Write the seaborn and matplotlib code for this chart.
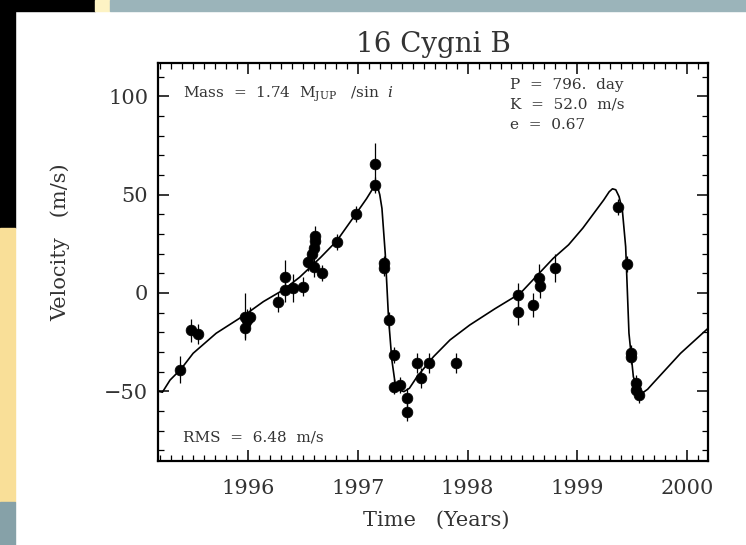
import numpy as np
import pandas as pd
import matplotlib
matplotlib.use('Agg')
import matplotlib.pyplot as plt
from matplotlib.patches import Rectangle
from matplotlib.ticker import MultipleLocator
import seaborn as sns

# radial velocity measurements (year, m/s, error)
obs_time = [1995.38, 1995.48, 1995.54, 1995.97, 1995.99, 1996.02, 1995.97, 1996.27,
            1996.34, 1996.34, 1996.41, 1996.50, 1996.55, 1996.58, 1996.60, 1996.61,
            1996.61, 1996.60, 1996.67, 1996.81, 1996.98, 1997.16, 1997.16, 1997.24,
            1997.24, 1997.28, 1997.33, 1997.33, 1997.38, 1997.45, 1997.45, 1997.54,
            1997.58, 1997.65, 1997.89, 1998.46, 1998.46, 1998.60, 1998.65, 1998.66,
            1998.80, 1999.37, 1999.45, 1999.49, 1999.49, 1999.53, 1999.53, 1999.56]
obs_vel = [-39, -19, -21, -12, -14, -12, -18, -4.5,
           8, 1.5, 2.4, 3.2, 16, 20, 23, 26.5,
           29, 13, 10, 26, 40, 55, 65.5, 15,
           12.6, -13.7, -31.5, -47.6, -47, -53.6, -60.4, -35.8,
           -43.4, -35.8, -35.8, -1, -9.5, -6.1, 7.5, 3.6,
           12.6, 43.9, 14.7, -30.7, -32.4, -45.9, -49.3, -51.9]
obs_err = [7, 6, 5, 12, 6, 5, 5, 5,
           9, 6, 7, 5, 5, 5, 5, 5,
           5, 5, 4, 4, 4, 4, 11, 4,
           4, 4, 4, 4, 4, 5, 5, 5,
           5, 5, 5, 6, 7, 6, 7, 6,
           7, 4, 4, 4, 4, 4, 4, 4]

# orbit fit curve
fit_time = [1995.18, 1995.22, 1995.29, 1995.39, 1995.50, 1995.71, 1995.97, 1996.14,
            1996.32, 1996.47, 1996.66, 1996.81, 1996.98, 1997.08, 1997.13, 1997.16,
            1997.18, 1997.20, 1997.22, 1997.25, 1997.28, 1997.31, 1997.34, 1997.38,
            1997.42, 1997.47, 1997.54, 1997.69, 1997.84, 1998.02, 1998.25, 1998.48,
            1998.78, 1998.92, 1999.05, 1999.24, 1999.29, 1999.32, 1999.35, 1999.38,
            1999.41, 1999.44, 1999.47, 1999.51, 1999.55, 1999.59, 1999.64, 1999.69,
            1999.94, 2000.19]
fit_vel = [-50, -50.5, -44.3, -38.7, -30.7, -20.5, -11.2, -4.4,
           1.5, 8, 18, 26.6, 40, 48, 52.5, 54.5,
           54, 50, 43, 20, -12.9, -34, -46, -49.5,
           -50.2, -48.5, -42.6, -32.4, -23.9, -16.3, -8, -0.2,
           17.6, 24.5, 33, 47.3, 51.5, 53, 52.5, 49,
           42, 23.5, -20.5, -42.6, -49.5, -51, -49, -45.9,
           -30.7, -18]

year_ticks = [1996, 1997, 1998, 1999, 2000]
vel_ticks = [-50, 0, 50, 100]

obs = pd.DataFrame({'t': obs_time, 'v': obs_vel, 'err': obs_err})
fit = pd.DataFrame({'t': fit_time, 'v': fit_vel})

sns.set_style('ticks')
plt.rcParams['font.family'] = ['DejaVu Serif']
plt.rcParams['mathtext.fontset'] = 'dejavuserif'

fig = plt.figure(figsize=(7.46, 5.45), dpi=100)
fig.patch.set_facecolor('white')

# slide decoration
fig.patches.append(Rectangle((0, 1 - 228/545), 15/746, 228/545, transform=fig.transFigure,
                             color='black', zorder=0))
fig.patches.append(Rectangle((0, 1 - 11/545), 95/746, 11/545, transform=fig.transFigure,
                             color='black', zorder=0))
fig.patches.append(Rectangle((95/746, 1 - 11/545), 15/746, 11/545, transform=fig.transFigure,
                             color='#fdf3c4', zorder=0))
fig.patches.append(Rectangle((110/746, 1 - 11/545), 636/746, 11/545, transform=fig.transFigure,
                             color='#9bb4ba', zorder=0))
fig.patches.append(Rectangle((0, 43/545), 15/746, 274/545, transform=fig.transFigure,
                             color='#f9df98', zorder=0))
fig.patches.append(Rectangle((0, 0), 15/746, 43/545, transform=fig.transFigure,
                             color='#86a1a8', zorder=0))

ax = fig.add_axes([158/746, 1 - 461/545, 550/746, 398/545])

ax.errorbar(obs['t'], obs['v'], yerr=obs['err'], fmt='none', ecolor='black',
            elinewidth=0.9, capsize=0, zorder=2)
sns.lineplot(data=fit, x='t', y='v', sort=False, color='black', linewidth=1.2,
             ax=ax, zorder=3)
sns.scatterplot(data=obs, x='t', y='v', color='black', s=60, edgecolor='black',
                linewidth=0.5, ax=ax, zorder=4)

ax.set_xlim(1995.18, 2000.19)
ax.set_ylim(-85.5, 117)
ax.set_xticks(year_ticks)
ax.set_yticks(vel_ticks)
ax.set_yticklabels(['\u221250', '0', '50', '100'])
ax.xaxis.set_minor_locator(MultipleLocator(0.1))
ax.yaxis.set_minor_locator(MultipleLocator(10))
ax.tick_params(which='both', direction='in', top=True, right=True, color='black')
ax.tick_params(which='major', length=8, width=1.1, labelsize=15, labelcolor='#333333')
ax.tick_params(which='minor', length=4, width=0.9)
ax.tick_params(axis='x', which='major', pad=13)
ax.tick_params(axis='y', which='major', pad=7)
for sp in ax.spines.values():
    sp.set_linewidth(1.6)
    sp.set_color('black')

ax.set_xlabel('Time   (Years)', fontsize=15, color='#333333')
ax.set_ylabel('Velocity   (m/s)', fontsize=15, color='#333333')
ax.xaxis.set_label_coords(0.505, -0.125)
ax.yaxis.set_label_coords(-0.16, 0.55)
ax.set_title('16 Cygni B', fontsize=20, color='#333333', pad=8)

small = dict(transform=ax.transAxes, fontsize=11, color='#333333', va='center')
ax.text(0.045, 0.92, r'Mass  =  1.74  M$_{\mathrm{JUP}}$   /sin  $i$', **small)
ax.text(0.640, 0.945, 'P  =  796.  day', **small)
ax.text(0.640, 0.895, 'K  =  52.0  m/s', **small)
ax.text(0.640, 0.845, 'e  =  0.67', **small)
ax.text(0.045, 0.060, 'RMS  =  6.48  m/s', **small)

fig.savefig('out.png', dpi=100, facecolor=fig.get_facecolor())
